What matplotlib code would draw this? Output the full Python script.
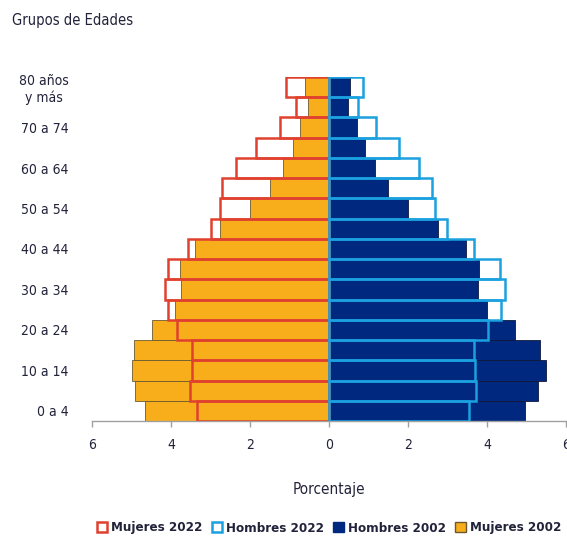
import matplotlib
matplotlib.use("Agg")
import matplotlib.pyplot as plt
import numpy as np
from matplotlib.patches import Patch

plt.rcParams['font.family'] = ['DejaVu Sans']
plt.rcParams['font.stretch'] = 'condensed'

# age groups, bottom to top
grupos = ["0 a 4", "5 a 9", "10 a 14", "15 a 19", "20 a 24", "25 a 29", "30 a 34",
          "35 a 39", "40 a 44", "45 a 49", "50 a 54", "55 a 59", "60 a 64",
          "65 a 69", "70 a 74", "75 a 79", "80 años\ny más"]

mujeres_2002 = [4.67, 4.90, 5.00, 4.94, 4.48, 3.89, 3.74, 3.76, 3.38, 2.75,
                2.00, 1.50, 1.17, 0.92, 0.74, 0.52, 0.62]
mujeres_2022 = [3.35, 3.52, 3.48, 3.46, 3.84, 4.08, 4.14, 4.08, 3.56, 2.98,
                2.77, 2.70, 2.36, 1.84, 1.25, 0.84, 1.08]
hombres_2002 = [4.95, 5.30, 5.49, 5.35, 4.70, 4.00, 3.76, 3.81, 3.46, 2.77,
                2.01, 1.49, 1.16, 0.91, 0.72, 0.49, 0.52]
hombres_2022 = [3.54, 3.71, 3.70, 3.66, 4.03, 4.35, 4.46, 4.32, 3.66, 2.99,
                2.69, 2.62, 2.29, 1.77, 1.18, 0.74, 0.85]

c_naranja = "#F7AE1A"
c_azul_osc = "#00287F"
c_rojo = "#E0412F"
c_celeste = "#1BA1DF"
c_texto = "#22223a"

y = np.arange(len(grupos))

fig = plt.figure(figsize=(5.67, 5.37), dpi=100)
ax = fig.add_axes([92 / 567, 1 - 421 / 537, 474 / 567, 344 / 537])

# 2002 filled bars
ax.barh(y, -np.array(mujeres_2002), height=1.0, color=c_naranja,
        edgecolor="#6b5a30", linewidth=0.6, zorder=2)
ax.barh(y, hombres_2002, height=1.0, color=c_azul_osc,
        edgecolor="#10183a", linewidth=0.6, zorder=2)
# 2022 outlines on top
ax.barh(y, -np.array(mujeres_2022), height=1.0, facecolor="none",
        edgecolor=c_rojo, linewidth=1.8, zorder=3)
ax.barh(y, hombres_2022, height=1.0, facecolor="none",
        edgecolor=c_celeste, linewidth=1.8, zorder=3)

ax.set_xlim(-6, 6)
ax.set_ylim(-0.5, len(grupos) - 0.5)
ax.set_xticks([-6, -4, -2, 0, 2, 4, 6])
ax.set_xticklabels(["6", "4", "2", "0", "2", "4", "6"])
ax.set_yticks(y[::2])
ax.set_yticklabels(grupos[::2], multialignment="center")

for s in ["top", "right", "left"]:
    ax.spines[s].set_visible(False)
ax.spines["bottom"].set_color("#a0a0a0")
ax.spines["bottom"].set_linewidth(1.0)
ax.tick_params(axis="x", colors="#a0a0a0", length=4, width=1.0,
               labelcolor=c_texto, labelsize=10, pad=8)
ax.tick_params(axis="y", length=0, labelcolor=c_texto, labelsize=10, pad=17)

ax.set_xlabel("Porcentaje", fontsize=11, color=c_texto, labelpad=22)
fig.text(12 / 567, 1 - 20 / 537, "Grupos de Edades", fontsize=10.5,
         color=c_texto, va="center", ha="left")

handles = [
    Patch(facecolor="white", edgecolor=c_rojo, linewidth=1.8, label="Mujeres 2022"),
    Patch(facecolor="white", edgecolor=c_celeste, linewidth=1.8, label="Hombres 2022"),
    Patch(facecolor=c_azul_osc, edgecolor=c_azul_osc, linewidth=1.0, label="Hombres 2002"),
    Patch(facecolor=c_naranja, edgecolor="#6b5a30", linewidth=1.0, label="Mujeres 2002"),
]
fig.legend(handles=handles, loc="center left", bbox_to_anchor=(90 / 567, 1 - 528 / 537),
           ncol=4, frameon=False, handlelength=0.8, handleheight=0.8,
           handletextpad=0.3, columnspacing=0.7, borderpad=0.0,
           prop={"weight": "bold", "size": 9.5}, labelcolor=c_texto)

fig.savefig("out.png", dpi=100)
